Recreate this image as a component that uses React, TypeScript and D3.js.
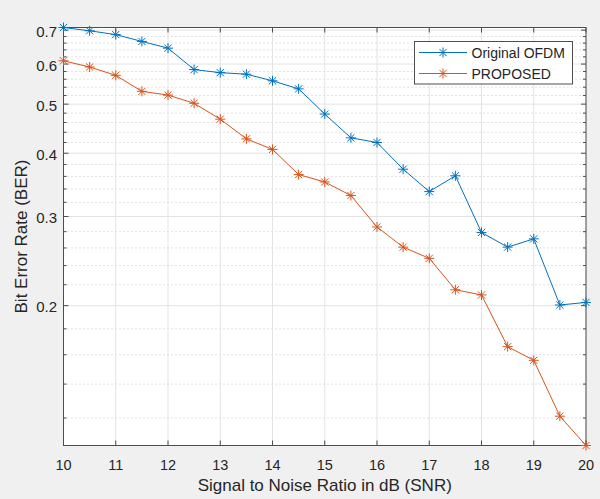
import React from "react";
import * as d3 from "d3";

const snr = [10, 10.5, 11, 11.5, 12, 12.5, 13, 13.5, 14, 14.5, 15, 15.5, 16, 16.5, 17, 17.5, 18, 18.5, 19, 19.5, 20];
const berOriginal = [0.7085, 0.698, 0.686, 0.665, 0.645, 0.585, 0.577, 0.573, 0.556, 0.536, 0.478, 0.429, 0.42, 0.372, 0.336, 0.361, 0.279, 0.261, 0.271, 0.2006, 0.203];
const berProposed = [0.609, 0.592, 0.57, 0.53, 0.521, 0.502, 0.467, 0.427, 0.407, 0.363, 0.351, 0.33, 0.286, 0.261, 0.248, 0.215, 0.21, 0.166, 0.156, 0.121, 0.1059];
const seriesNames = ["Original OFDM", "PROPOSED"];
const xTicks = [10, 11, 12, 13, 14, 15, 16, 17, 18, 19, 20];
const yTicks = [0.2, 0.3, 0.4, 0.5, 0.6, 0.7];
const yMinor = [0.12, 0.14, 0.16, 0.18, 0.22, 0.24, 0.26, 0.28, 0.32, 0.34, 0.36, 0.38, 0.42, 0.44, 0.46, 0.48, 0.52, 0.54, 0.56, 0.58, 0.62, 0.64, 0.66, 0.68];
const yDomain = [0.1059, 0.7085];
const xDomain = [10, 20];

const W = 600, H = 499;
const L = 63.5, R = 586, T = 27.5, B = 445.5;
const FONT = "'Liberation Sans', Arial, Helvetica, sans-serif";
const AXC = "#4d4d4d";
const TXT = "#262626";
const COLORS = ["#0072BD", "#D95319"];

function Star({ x, y, c }: { x: number; y: number; c: string }) {
  const r = 5, d = r * 0.72;
  return (
    <g stroke={c} strokeWidth={1}>
      <line x1={x - r} y1={y} x2={x + r} y2={y} />
      <line x1={x} y1={y - r} x2={x} y2={y + r} />
      <line x1={x - d} y1={y - d} x2={x + d} y2={y + d} />
      <line x1={x - d} y1={y + d} x2={x + d} y2={y - d} />
    </g>
  );
}

export default function App() {
  const xs = d3.scaleLinear().domain(xDomain).range([L, R]);
  const ys = d3.scaleLog().domain(yDomain).range([B, T]);
  const line = d3.line<number>().x((_, i) => xs(snr[i])).y((v) => ys(v));
  const data = [berOriginal, berProposed];
  const tk = 5;
  return (
    <svg width={W} height={H} style={{ position: "absolute", left: 0, top: 0, display: "block" }}>
      <rect x={0} y={0} width={W} height={H} fill="#f0f0f0" />
      <rect x={L} y={T} width={R - L} height={B - T} fill="#ffffff" />
      {yMinor.map((v) => (
        <line key={"mg" + v} x1={L} x2={R} y1={ys(v)} y2={ys(v)} stroke="#c4c4c4" strokeWidth={1} strokeDasharray="1,3" />
      ))}
      {yTicks.map((v) => (
        <line key={"yg" + v} x1={L} x2={R} y1={ys(v)} y2={ys(v)} stroke="#e3e3e3" strokeWidth={1} />
      ))}
      {xTicks.map((v) => (
        <line key={"xg" + v} x1={xs(v)} x2={xs(v)} y1={T} y2={B} stroke="#e3e3e3" strokeWidth={1} />
      ))}
      {xTicks.map((v) => (
        <g key={"xt" + v} stroke={AXC}>
          <line x1={xs(v)} x2={xs(v)} y1={B} y2={B - tk} />
          <line x1={xs(v)} x2={xs(v)} y1={T} y2={T + tk} />
        </g>
      ))}
      {yTicks.map((v) => (
        <g key={"yt" + v} stroke={AXC}>
          <line x1={L} x2={L + tk} y1={ys(v)} y2={ys(v)} />
          <line x1={R} x2={R - tk} y1={ys(v)} y2={ys(v)} />
        </g>
      ))}
      {yMinor.map((v) => (
        <g key={"ym" + v} stroke={AXC}>
          <line x1={L} x2={L + 3} y1={ys(v)} y2={ys(v)} />
          <line x1={R} x2={R - 3} y1={ys(v)} y2={ys(v)} />
        </g>
      ))}
      <rect x={L} y={T} width={R - L} height={B - T} fill="none" stroke={AXC} strokeWidth={1} />
      {data.map((s, si) => (
        <g key={"s" + si}>
          <path d={line(s) || ""} fill="none" stroke={COLORS[si]} strokeWidth={1} />
          {s.map((v, i) => (
            <Star key={i} x={xs(snr[i])} y={ys(v)} c={COLORS[si]} />
          ))}
        </g>
      ))}
      {xTicks.map((v) => (
        <text key={"xl" + v} x={xs(v)} y={469.5} textAnchor="middle" fontFamily={FONT} fontSize={14.5} fill={TXT}>
          {v}
        </text>
      ))}
      {yTicks.map((v) => (
        <text key={"yl" + v} x={57} y={ys(v) + 6.5} textAnchor="end" fontFamily={FONT} fontSize={15} fill={TXT}>
          {v.toFixed(1)}
        </text>
      ))}
      <text x={(L + R) / 2} y={491} textAnchor="middle" fontFamily={FONT} fontSize={17} fill={TXT}>
        Signal to Noise Ratio in dB (SNR)
      </text>
      <text transform={`translate(26.5,${(T + B) / 2}) rotate(-90)`} textAnchor="middle" fontFamily={FONT} fontSize={17} fill={TXT}>
        Bit Error Rate (BER)
      </text>
      <rect x={414.5} y={41.5} width={158} height={42.5} fill="#ffffff" stroke={AXC} strokeWidth={1} />
      {seriesNames.map((n, i) => {
        const ly = 52.5 + i * 21;
        return (
          <g key={"lg" + i}>
            <line x1={419} x2={467} y1={ly} y2={ly} stroke={COLORS[i]} strokeWidth={1} />
            <Star x={443} y={ly} c={COLORS[i]} />
            <text x={471.5} y={ly + 5} fontFamily={FONT} fontSize={14} fill={TXT}>
              {n}
            </text>
          </g>
        );
      })}
    </svg>
  );
}
